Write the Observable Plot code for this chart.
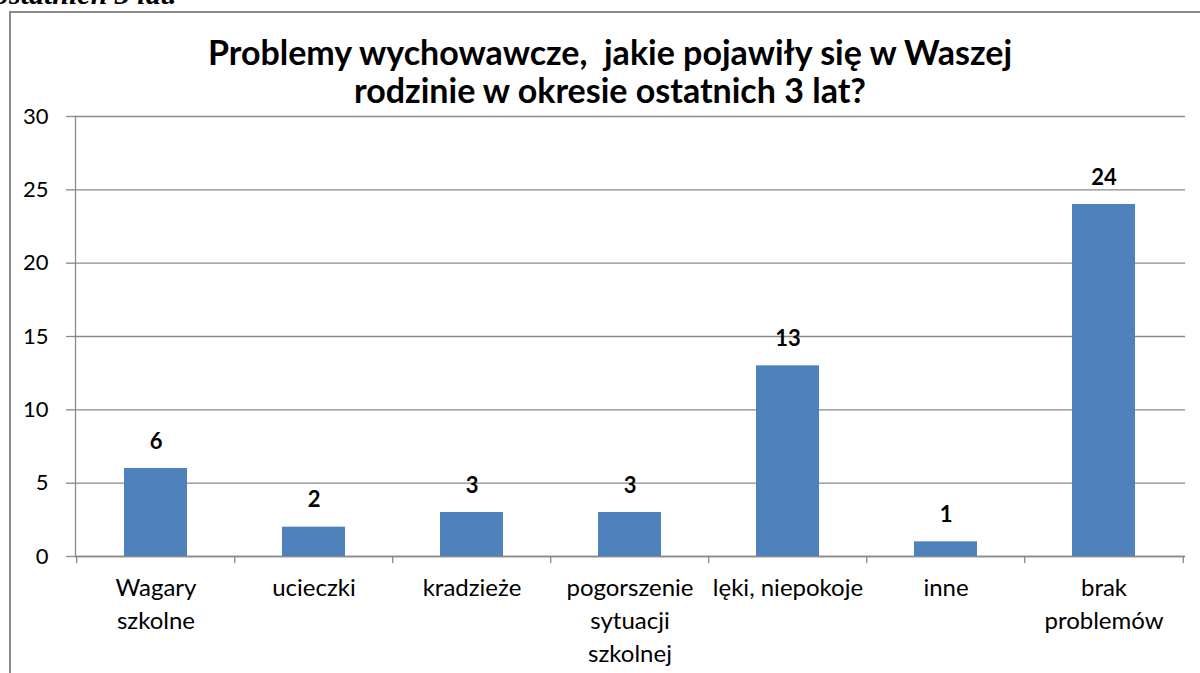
<!DOCTYPE html>
<html><head><meta charset="utf-8">
<script src="https://cdn.jsdelivr.net/npm/d3@7"></script>
<script src="https://cdn.jsdelivr.net/npm/@observablehq/plot@0.6"></script>
<style>
body{margin:0;background:#fff;width:1200px;height:673px;overflow:hidden;position:relative;font-family:Lato,"Noto Sans",sans-serif}
#frame{position:absolute;left:9px;top:11px;width:1220px;height:700px;border:2px solid #8a8a8a;box-sizing:border-box}
#top{position:absolute;left:-6px;top:-21px;font:italic bold 30px/30px "Liberation Serif",serif;color:#000;white-space:nowrap}
#title{position:absolute;left:0;width:1220px;top:33px;text-align:center;font:bold 34px/38px Lato,"Noto Sans",sans-serif;color:#000;white-space:pre}
#chart{position:absolute;left:0;top:0}
</style></head><body>
<div id="top">ostatnich 3 lat.</div>
<div id="frame"></div>
<div id="chart"></div>
<div id="title">Problemy wychowawcze,  jakie pojawiły się w Waszej
rodzinie w okresie ostatnich 3 lat?</div>
<script>
const categories = ["Wagary\nszkolne","ucieczki","kradzieże","pogorszenie\nsytuacji\nszkolnej","lęki, niepokoje","inne","brak\nproblemów"];
const values = [6,2,3,3,13,1,24];
const yTicks = [0,5,10,15,20,25,30];

const data = categories.map((c,i)=>({category:c, value:values[i]}));
const W = 1200, H = 673, mL = 75, mR = 15, mT = 116, mB = 117;
const plotH = H - mT - mB;
const step = (W - mL - mR) / categories.length;
const gray = "#8a8a8a";

const chart = Plot.plot({
  width: W, height: H,
  marginLeft: mL, marginRight: mR, marginTop: mT, marginBottom: mB,
  style: {fontFamily: "Lato, 'Noto Sans', sans-serif", fontSize: "22px", color: "#000", background: "transparent"},
  x: {domain: categories, type: "band", paddingInner: 0.6, paddingOuter: 0.3, axis: null},
  y: {domain: [0, 30], ticks: yTicks, axis: null},
  marks: [
    Plot.gridY(yTicks, {stroke: gray, strokeOpacity: 1, strokeWidth: 1.3}),
    Plot.axisY(yTicks, {label: null, tickSize: 9, tickPadding: 18, stroke: gray, strokeWidth: 1.3, fontSize: 22, fill: "#000"}),
    Plot.frame({anchor: "left", stroke: gray, strokeWidth: 1.3}),
    Plot.ruleY([0], {stroke: gray, strokeWidth: 1.3}),
    Plot.tickX(categories, {x: d => d, dx: -step/2, insetTop: plotH, insetBottom: -7, stroke: gray, strokeWidth: 1.3}),
    Plot.tickX(categories.slice(-1), {x: d => d, dx: step/2, insetTop: plotH, insetBottom: -7, stroke: gray, strokeWidth: 1.3}),
    Plot.barY(data, {x: "category", y: "value", fill: "#4F81BD"}),
    Plot.text(data, {x: "category", y: "value", text: d => String(d.value), lineAnchor: "bottom", dy: -20, fontWeight: "bold", fontSize: 22, fill: "#000"}),
    Plot.text(data, {x: "category", y: 0, text: "category", lineAnchor: "top", dy: 16, fontSize: 24, lineHeight: 1.37, fill: "#000"})
  ]
});
document.getElementById("chart").appendChild(chart);
</script>
</body></html>
